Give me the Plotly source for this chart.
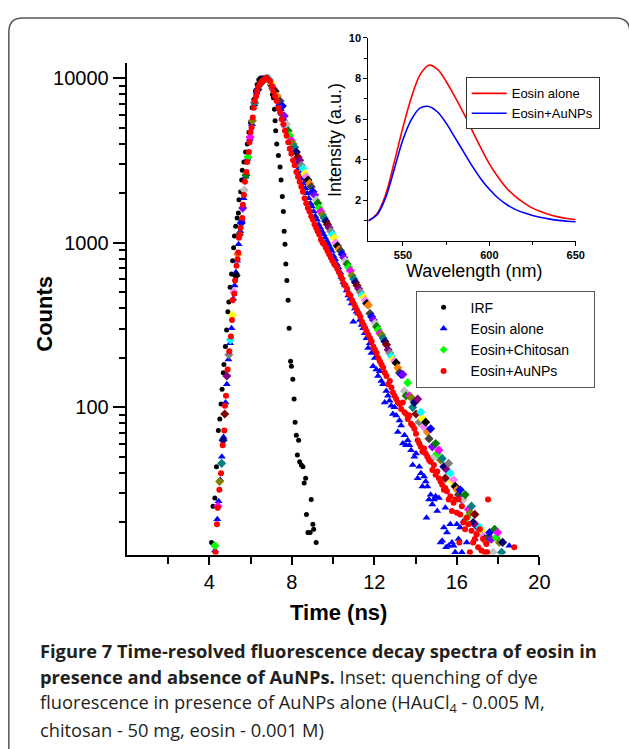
import plotly.graph_objects as go

W, H = 629, 749

# ---------------- main panel data: (time in ns, log10 of counts) ----------------
irf_points = [
    (4.11, 1.18), (4.18, 1.40), (4.27, 1.45), (4.35, 1.64), (4.44, 1.86), (4.51, 1.93), (4.57, 2.02),
    (4.62, 2.11), (4.68, 2.21), (4.71, 2.26), (4.78, 2.37), (4.84, 2.47), (4.90, 2.58), (4.95, 2.64),
    (5.01, 2.73), (5.08, 2.81), (5.13, 2.89), (5.18, 2.97), (5.22, 3.04), (5.28, 3.10), (5.35, 3.15),
    (5.41, 3.18), (5.44, 3.26), (5.52, 3.31), (5.57, 3.38), (5.60, 3.44), (5.68, 3.49), (5.76, 3.55),
    (5.84, 3.60), (5.92, 3.67), (6.00, 3.73), (6.08, 3.82), (6.16, 3.87), (6.24, 3.92), (6.32, 3.96),
    (6.40, 3.99), (6.48, 4.00), (6.56, 4.00), (6.64, 4.00), (6.71, 4.00), (6.79, 3.99), (6.87, 3.99),
    (6.94, 3.96), (7.00, 3.94), (7.06, 3.90), (7.11, 3.88), (7.16, 3.81), (7.19, 3.74), (7.22, 3.68),
    (7.27, 3.60), (7.35, 3.53), (7.43, 3.46), (7.48, 3.38), (7.54, 3.28), (7.59, 3.19), (7.63, 3.07),
    (7.67, 2.99), (7.71, 2.87), (7.76, 2.77), (7.82, 2.65), (7.87, 2.48), (7.94, 2.28), (7.98, 2.25),
    (8.05, 2.17), (8.11, 2.05), (8.16, 1.91), (8.22, 1.83), (8.27, 1.71), (8.33, 1.80), (8.38, 1.67),
    (8.46, 1.65), (8.54, 1.64), (8.60, 1.54), (8.67, 1.57), (8.71, 1.35), (8.78, 1.24), (8.89, 1.24),
    (8.94, 1.44), (9.02, 1.29), (9.06, 1.26), (9.18, 1.18),
]

eosin_alone_points = [
    (4.28, 1.13), (4.39, 1.32), (4.45, 1.43), (4.53, 1.56), (4.61, 1.70), (4.69, 1.82), (4.79, 2.03),
    (4.85, 2.14), (4.93, 2.29), (5.01, 2.39), (5.08, 2.48), (5.16, 2.66), (5.23, 2.74), (5.29, 2.82),
    (5.35, 2.89), (5.42, 2.99), (5.50, 3.07), (5.58, 3.14), (5.66, 3.27), (5.76, 3.40), (5.86, 3.51),
    (5.97, 3.63), (6.07, 3.72), (6.19, 3.84), (6.30, 3.91), (6.44, 3.96), (6.58, 3.99), (6.72, 4.00),
    (6.84, 4.00), (6.90, 4.00), (6.98, 3.98), (7.06, 3.96), (7.14, 3.93), (7.22, 3.90), (7.30, 3.87),
    (7.38, 3.84), (7.46, 3.81), (7.54, 3.78), (7.62, 3.75), (7.70, 3.71), (7.78, 3.68), (7.86, 3.65),
    (7.94, 3.61), (8.02, 3.58), (8.10, 3.55), (8.18, 3.51), (8.26, 3.48), (8.34, 3.45), (8.42, 3.42),
    (8.50, 3.39), (8.58, 3.36), (8.66, 3.33), (8.74, 3.30), (8.82, 3.27), (8.90, 3.24), (8.98, 3.22),
    (9.06, 3.19), (9.14, 3.16), (9.22, 3.14), (9.30, 3.11), (9.38, 3.09), (9.46, 3.07), (9.54, 3.05),
    (9.62, 3.03), (9.70, 3.01), (9.78, 2.99), (9.86, 2.97), (9.94, 2.95), (10.02, 2.92), (10.10, 2.90),
    (10.18, 2.87), (10.26, 2.85), (10.34, 2.82), (10.42, 2.79), (10.50, 2.76), (10.58, 2.74),
    (10.66, 2.71), (10.74, 2.68), (10.82, 2.66), (10.90, 2.63), (10.98, 2.52), (11.06, 2.60),
    (11.14, 2.58), (11.22, 2.57), (11.30, 2.53), (11.38, 2.50), (11.46, 2.48), (11.54, 2.45),
    (11.62, 2.42), (11.70, 2.36), (11.78, 2.39), (11.86, 2.33), (11.94, 2.25), (12.02, 2.30),
    (12.10, 2.23), (12.18, 2.19), (12.26, 2.22), (12.34, 2.16), (12.42, 2.14), (12.50, 2.03),
    (12.58, 2.10), (12.66, 2.07), (12.74, 2.04), (12.82, 2.01), (12.90, 1.96), (12.98, 2.00),
    (13.06, 1.95), (13.14, 1.85), (13.22, 1.92), (13.30, 1.89), (13.38, 1.78), (13.46, 1.83),
    (13.54, 1.77), (13.62, 1.80), (13.70, 1.77), (13.78, 1.74), (13.86, 1.65), (13.94, 1.70),
    (14.02, 1.72), (14.10, 1.57), (14.18, 1.64), (14.26, 1.60), (14.33, 1.52), (14.41, 1.58),
    (14.49, 1.55), (14.53, 1.33), (14.57, 1.52), (14.65, 1.44), (14.73, 1.47), (14.81, 1.41),
    (14.89, 1.44), (14.97, 1.46), (15.05, 1.37), (15.13, 1.45), (15.21, 1.18), (15.29, 1.19),
    (15.37, 1.27), (15.44, 1.39), (15.48, 1.15), (15.52, 1.24), (15.60, 1.16), (15.68, 1.29),
    (15.76, 1.18), (15.84, 1.16), (15.92, 1.12), (16.00, 1.29), (16.08, 1.20), (16.16, 1.27),
    (16.24, 1.12), (16.32, 1.31), (16.48, 1.18), (16.87, 1.20), (18.54, 1.16),
]

eosin_chitosan_points = [
    (4.27, 1.16), (4.42, 1.40), (4.50, 1.55), (4.60, 1.66), (4.67, 1.80), (4.75, 1.96), (4.85, 2.19),
    (4.95, 2.32), (5.02, 2.41), (5.12, 2.56), (5.19, 2.70), (5.30, 2.80), (5.38, 2.93), (5.46, 3.05),
    (5.55, 3.12), (5.62, 3.21), (5.70, 3.32), (5.78, 3.41), (5.88, 3.52), (5.98, 3.64), (6.09, 3.74),
    (6.20, 3.85), (6.35, 3.93), (6.50, 3.97), (6.65, 3.99), (6.80, 4.00), (6.92, 3.99), (7.00, 3.97),
    (7.10, 3.94), (7.19, 3.92), (7.30, 3.89), (7.43, 3.86), (7.54, 3.83), (7.63, 3.77), (7.75, 3.72),
    (7.82, 3.68), (7.90, 3.65), (7.98, 3.62), (8.06, 3.60), (8.14, 3.58), (8.22, 3.55), (8.30, 3.52),
    (8.38, 3.50), (8.46, 3.47), (8.54, 3.45), (8.62, 3.42), (8.70, 3.40), (8.78, 3.38), (8.86, 3.36),
    (8.94, 3.34), (9.02, 3.31), (9.10, 3.29), (9.18, 3.26), (9.26, 3.24), (9.33, 3.21), (9.41, 3.19),
    (9.49, 3.17), (9.57, 3.15), (9.65, 3.13), (9.73, 3.11), (9.81, 3.09), (9.89, 3.07), (9.97, 3.05),
    (10.05, 3.03), (10.13, 3.00), (10.21, 2.98), (10.29, 2.96), (10.37, 2.95), (10.44, 2.93),
    (10.52, 2.91), (10.60, 2.89), (10.68, 2.87), (10.76, 2.85), (10.84, 2.83), (10.92, 2.80),
    (11.00, 2.78), (11.08, 2.76), (11.16, 2.74), (11.24, 2.72), (11.32, 2.70), (11.40, 2.68),
    (11.48, 2.67), (11.56, 2.65), (11.63, 2.63), (11.71, 2.62), (11.79, 2.57), (11.87, 2.55),
    (11.95, 2.53), (12.03, 2.51), (12.11, 2.49), (12.19, 2.47), (12.27, 2.45), (12.35, 2.44),
    (12.43, 2.42), (12.51, 2.40), (12.59, 2.38), (12.67, 2.35), (12.75, 2.33), (12.82, 2.31),
    (12.90, 2.29), (12.98, 2.28), (13.06, 2.27), (13.14, 2.24), (13.22, 2.21), (13.30, 2.20),
    (13.38, 2.20), (13.46, 2.10), (13.54, 2.07), (13.62, 2.15), (13.70, 2.07), (13.78, 2.06),
    (13.86, 2.00), (13.94, 2.03), (14.02, 1.96), (14.10, 2.05), (14.18, 1.91), (14.25, 1.97),
    (14.33, 1.93), (14.41, 1.88), (14.49, 1.91), (14.57, 1.85), (14.65, 1.81), (14.73, 1.87),
    (14.81, 1.76), (14.89, 1.70), (14.97, 1.78), (15.05, 1.72), (15.13, 1.74), (15.21, 1.68),
    (15.29, 1.69), (15.37, 1.64), (15.44, 1.57), (15.52, 1.62), (15.60, 1.66), (15.68, 1.60),
    (15.76, 1.55), (15.84, 1.56), (15.92, 1.52), (16.00, 1.50), (16.08, 1.47), (16.16, 1.50),
    (16.24, 1.44), (16.32, 1.44), (16.40, 1.47), (16.48, 1.33), (16.56, 1.38), (16.64, 1.36),
    (16.71, 1.40), (16.79, 1.30), (16.87, 1.35), (16.95, 1.28), (17.03, 1.24), (17.11, 1.27),
    (17.19, 1.25), (17.27, 1.22), (17.35, 1.20), (17.43, 1.18), (17.51, 1.21), (17.59, 1.24),
    (17.67, 1.20), (17.75, 1.12), (17.83, 1.26), (17.90, 1.21), (17.98, 1.24), (18.06, 1.18),
    (18.17, 1.12), (18.22, 1.18),
]

eosin_aunps_points = [
    (4.30, 1.12), (4.37, 1.29), (4.41, 1.39), (4.49, 1.50), (4.57, 1.60), (4.65, 1.77), (4.73, 1.86),
    (4.76, 2.01), (4.81, 2.07), (4.89, 2.23), (4.97, 2.34), (5.05, 2.43), (5.10, 2.53), (5.13, 2.65),
    (5.21, 2.69), (5.25, 2.77), (5.32, 2.86), (5.37, 2.90), (5.40, 2.94), (5.44, 3.03), (5.48, 3.05),
    (5.52, 3.09), (5.60, 3.15), (5.63, 3.23), (5.68, 3.29), (5.73, 3.37), (5.80, 3.43), (5.84, 3.49),
    (5.92, 3.55), (5.95, 3.61), (6.00, 3.67), (6.05, 3.70), (6.11, 3.76), (6.16, 3.82), (6.21, 3.86),
    (6.27, 3.89), (6.32, 3.92), (6.40, 3.95), (6.48, 3.97), (6.56, 3.98), (6.68, 3.99), (6.79, 4.00),
    (6.87, 3.99), (6.95, 3.98), (7.03, 3.95), (7.11, 3.92), (7.19, 3.89), (7.27, 3.86), (7.35, 3.82),
    (7.43, 3.79), (7.51, 3.75), (7.59, 3.72), (7.67, 3.68), (7.75, 3.65), (7.83, 3.61), (7.90, 3.57),
    (7.98, 3.54), (8.06, 3.50), (8.14, 3.47), (8.22, 3.43), (8.30, 3.40), (8.38, 3.37), (8.46, 3.34),
    (8.54, 3.31), (8.62, 3.27), (8.70, 3.24), (8.78, 3.21), (8.86, 3.19), (8.94, 3.16), (9.02, 3.14),
    (9.10, 3.11), (9.18, 3.09), (9.25, 3.07), (9.33, 3.05), (9.41, 3.02), (9.49, 3.00), (9.57, 2.99),
    (9.65, 2.97), (9.73, 2.95), (9.81, 2.93), (9.89, 2.91), (9.97, 2.89), (10.05, 2.87), (10.13, 2.86),
    (10.21, 2.84), (10.29, 2.82), (10.37, 2.80), (10.44, 2.78), (10.52, 2.75), (10.60, 2.74),
    (10.68, 2.72), (10.76, 2.69), (10.84, 2.68), (10.92, 2.65), (11.00, 2.63), (11.08, 2.61),
    (11.16, 2.59), (11.24, 2.57), (11.32, 2.55), (11.40, 2.52), (11.48, 2.50), (11.56, 2.48),
    (11.63, 2.46), (11.71, 2.44), (11.79, 2.42), (11.87, 2.40), (11.95, 2.37), (12.03, 2.35),
    (12.11, 2.33), (12.19, 2.30), (12.27, 2.28), (12.35, 2.26), (12.43, 2.24), (12.51, 2.21),
    (12.59, 2.19), (12.67, 2.14), (12.75, 2.16), (12.83, 2.12), (12.90, 2.09), (12.98, 2.07),
    (13.06, 2.05), (13.14, 2.03), (13.22, 2.02), (13.30, 1.99), (13.38, 2.03), (13.46, 1.97),
    (13.54, 1.96), (13.62, 1.93), (13.70, 1.95), (13.78, 1.90), (13.86, 1.89), (13.94, 1.87),
    (14.02, 1.84), (14.10, 1.80), (14.18, 1.78), (14.25, 1.76), (14.33, 1.73), (14.41, 1.75),
    (14.49, 1.72), (14.57, 1.70), (14.65, 1.68), (14.73, 1.67), (14.81, 1.62), (14.89, 1.65),
    (14.97, 1.59), (15.05, 1.61), (15.13, 1.57), (15.21, 1.55), (15.29, 1.53), (15.37, 1.50),
    (15.44, 1.51), (15.52, 1.49), (15.60, 1.44), (15.68, 1.46), (15.76, 1.37), (15.84, 1.42),
    (15.92, 1.44), (16.00, 1.36), (16.08, 1.44), (16.12, 1.18), (16.16, 1.35), (16.24, 1.40),
    (16.32, 1.30), (16.40, 1.26), (16.48, 1.33), (16.56, 1.29), (16.63, 1.12), (16.71, 1.25),
    (16.79, 1.18), (16.87, 1.20), (16.95, 1.23), (17.03, 1.15), (17.11, 1.26), (17.19, 1.13),
    (17.27, 1.20), (17.35, 1.12), (17.43, 1.17), (17.47, 1.12), (17.51, 1.44), (18.78, 1.15),
]

x_tick_values = [4, 8, 12, 16, 20]
x_minor_values = [2, 6, 10, 14, 18]
y_tick_values = [100, 1000, 10000]
y_tick_labels = ["100", "1000", "10000"]
y_minor_values = [20, 30, 40, 50, 60, 70, 80, 90, 200, 300, 400, 500, 600, 700, 800, 900,
                  2000, 3000, 4000, 5000, 6000, 7000, 8000, 9000]

# ---------------- inset data ----------------
wavelength_nm = [530, 535, 540, 545, 550, 555, 560, 565, 570, 575, 580, 585, 590,
                 595, 600, 605, 610, 615, 620, 625, 630, 635, 640, 645, 650]
intensity_eosin_alone = [1.0, 1.35, 2.3, 3.9, 5.6, 7.1, 8.2, 8.65, 8.45, 7.85, 7.1, 6.3, 5.45,
                         4.6, 3.8, 3.15, 2.6, 2.2, 1.88, 1.62, 1.44, 1.3, 1.19, 1.11, 1.06]
intensity_eosin_aunps = [1.0, 1.3, 2.15, 3.55, 5.0, 6.0, 6.55, 6.62, 6.35, 5.8, 5.1, 4.4, 3.7,
                         3.07, 2.55, 2.12, 1.8, 1.56, 1.39, 1.26, 1.16, 1.08, 1.02, 0.98, 0.95]
inset_x_ticks = [550, 600, 650]
inset_x_minor = [575, 625]
inset_y_ticks = [2, 4, 6, 8, 10]
inset_y_minor = [1, 3, 5, 7, 9]

caption_lines = [
    "<b>Figure 7 Time-resolved fluorescence decay spectra of eosin in</b>",
    "<b>presence and absence of AuNPs.</b> Inset: quenching of dye",
    "fluorescence in presence of AuNPs alone (HAuCl<sub>4</sub> - 0.005 M,",
    "chitosan - 50 mg, eosin - 0.001 M)",
]

# ---------------- styling helpers ----------------
FONT = "Liberation Sans, Arial, Helvetica, sans-serif"
CAP_FONT = "Open Sans, Noto Sans, sans-serif"
chitosan_palette = ["#00FF00", "#FF00FF", "#808000", "#008080", "#000080", "#800000",
                    "#800080", "#808080", "#00FFFF", "#FFFF00", "#FF80FF", "#000000",
                    "#FF8000", "#404040", "#0000FF", "#8000FF", "#C0C0C0", "#008000"]
PAD = "&nbsp;" * 5  # widens the main legend box to the reference's width


def px(x):
    return x / W


def py(y):
    return 1 - y / H


def split(points):
    t = [p[0] for p in points]
    c = [10 ** p[1] for p in points]
    return t, c


fig = go.Figure()

irf_t, irf_c = split(irf_points)
alone_t, alone_c = split(eosin_alone_points)
chit_t, chit_c = split(eosin_chitosan_points)
aunp_t, aunp_c = split(eosin_aunps_points)

fig.add_trace(go.Scatter(x=irf_t, y=irf_c, mode="markers", name="IRF",
                         marker=dict(symbol="circle", size=5, color="#000000"),
                         xaxis="x", yaxis="y", legend="legend"))
fig.add_trace(go.Scatter(x=alone_t, y=alone_c, mode="markers", name="Eosin alone",
                         marker=dict(symbol="triangle-up", size=7, color="#0000FF"),
                         xaxis="x", yaxis="y", legend="legend"))
fig.add_trace(go.Scatter(x=chit_t, y=chit_c, mode="markers", name="Eosin+Chitosan",
                         marker=dict(symbol="diamond", size=7,
                                     color=[chitosan_palette[i % len(chitosan_palette)]
                                            for i in range(len(chit_t))]),
                         xaxis="x", yaxis="y", showlegend=False))
fig.add_trace(go.Scatter(x=[None], y=[None], mode="markers", name="Eosin+Chitosan" + PAD,
                         marker=dict(symbol="diamond", size=6, color="#00FF00"),
                         xaxis="x", yaxis="y", legend="legend"))
fig.add_trace(go.Scatter(x=aunp_t, y=aunp_c, mode="markers", name="Eosin+AuNPs",
                         marker=dict(symbol="circle", size=6, color="#FF0000"),
                         xaxis="x", yaxis="y", legend="legend"))

fig.add_trace(go.Scatter(x=wavelength_nm, y=intensity_eosin_alone, mode="lines", name="Eosin alone",
                         line=dict(color="#FF0000", width=1.6, shape="spline"),
                         xaxis="x2", yaxis="y2", legend="legend2"))
fig.add_trace(go.Scatter(x=wavelength_nm, y=intensity_eosin_aunps, mode="lines", name="Eosin+AuNPs",
                         line=dict(color="#0000FF", width=1.6, shape="spline"),
                         xaxis="x2", yaxis="y2", legend="legend2"))

axis_common = dict(showgrid=False, zeroline=False, showline=True, linecolor="#000000",
                   ticks="outside", tickcolor="#000000", mirror=False)

annotations = [
    dict(text="<b>Counts</b>", x=px(45), y=py(310), textangle=-90,
         font=dict(family=FONT, size=22, color="#000000")),
    dict(text="<b>Time (ns)</b>", x=px(345), y=py(611),
         font=dict(family=FONT, size=22, color="#000000")),
    dict(text="Intensity (a.u.)", x=px(341), y=py(135), textangle=-90,
         font=dict(family=FONT, size=18, color="#000000")),
    dict(text="Wavelength (nm)", x=px(482), y=py(267),
         font=dict(family=FONT, size=18, color="#000000")),
]
for i, line in enumerate(caption_lines):
    annotations.append(dict(text=line, x=px(39), y=py(650 + 26.3 * i), xanchor="left",
                            font=dict(family=CAP_FONT, size=18.3, color="#231F20")))
for a in annotations:
    a.update(xref="paper", yref="paper", showarrow=False)
    a.setdefault("xanchor", "center")
    a.setdefault("yanchor", "middle")

r = 14
L, T, R, B = 9, 12, 641, 770
border = (f"M {px(L)},{py(B)} L {px(L)},{py(T + r)} Q {px(L)},{py(T)} {px(L + r)},{py(T)} "
          f"L {px(R - r)},{py(T)} Q {px(R)},{py(T)} {px(R)},{py(T + r)} L {px(R)},{py(B)}")

fig.update_layout(
    width=W, height=H, margin=dict(l=0, r=0, t=0, b=0),
    paper_bgcolor="#FFFFFF", plot_bgcolor="rgba(0,0,0,0)",
    font=dict(family=FONT, color="#000000"),
    xaxis=dict(**axis_common, domain=[px(129), px(549)], range=[0, 20], anchor="y",
               linewidth=2, tickwidth=2, ticklen=8,
               tickmode="array", tickvals=x_tick_values,
               tickfont=dict(family=FONT, size=20, color="#000000"),
               minor=dict(tickmode="array", tickvals=x_minor_values, ticks="outside",
                          ticklen=7, tickwidth=2, tickcolor="#000000")),
    yaxis=dict(**axis_common, domain=[py(553), py(57)], type="log", range=[1.106, 4.094],
               anchor="x", linewidth=2, tickwidth=2, ticklen=12,
               tickmode="array", tickvals=y_tick_values, ticktext=y_tick_labels,
               tickfont=dict(family=FONT, size=20, color="#000000"),
               minor=dict(tickmode="array", tickvals=y_minor_values, ticks="outside",
                          ticklen=6, tickwidth=2, tickcolor="#000000")),
    xaxis2=dict(**axis_common, domain=[px(375), px(586)], range=[530, 650], anchor="y2",
                linewidth=1.3, tickwidth=1.3, ticklen=4,
                tickmode="array", tickvals=inset_x_ticks,
                tickfont=dict(family=FONT, size=11, color="#000000", weight="bold"),
                minor=dict(tickmode="array", tickvals=inset_x_minor, ticks="outside",
                           ticklen=3, tickwidth=1.3, tickcolor="#000000")),
    yaxis2=dict(**axis_common, domain=[py(237), py(32)], range=[0, 10], anchor="x2",
                linewidth=1.3, tickwidth=1.3, ticklen=4,
                tickmode="array", tickvals=inset_y_ticks,
                tickfont=dict(family=FONT, size=11, color="#000000", weight="bold"),
                minor=dict(tickmode="array", tickvals=inset_y_minor, ticks="outside",
                           ticklen=3, tickwidth=1.3, tickcolor="#000000")),
    legend=dict(x=px(423), y=py(287), xanchor="left", yanchor="top",
                bgcolor="#FFFFFF", bordercolor="#555555", borderwidth=1,
                font=dict(family=FONT, size=14, color="#000000"),
                itemwidth=44, itemsizing="trace", tracegroupgap=0),
    legend2=dict(x=px(474), y=py(72), xanchor="left", yanchor="top",
                 bgcolor="#FFFFFF", bordercolor="#333333", borderwidth=1,
                 font=dict(family=FONT, size=13, color="#000000"),
                 itemwidth=35, tracegroupgap=0),
    annotations=annotations,
    shapes=[dict(type="path", path=border, xref="paper", yref="paper",
                 line=dict(color="#555555", width=1.5))],
)

fig.write_html("out.html")
